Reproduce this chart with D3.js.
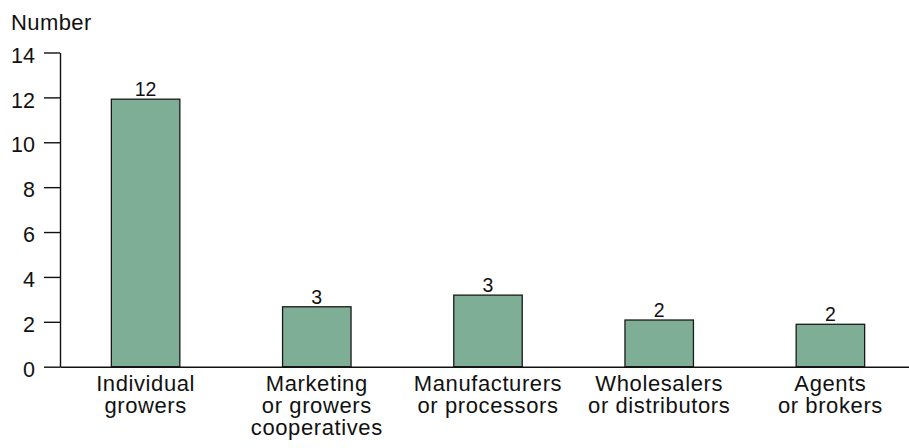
<!DOCTYPE html>
<html>
<head>
<meta charset="utf-8">
<script src="https://cdn.jsdelivr.net/npm/d3@7"></script>
<style>
  body { margin: 0; background: #fff; }
  svg { display: block; font-family: "Liberation Sans", Arial, sans-serif; }
</style>
</head>
<body>
<svg width="909" height="448"></svg>
<script>
const categories = [
  ['Individual', 'growers'],
  ['Marketing', 'or growers', 'cooperatives'],
  ['Manufacturers', 'or processors'],
  ['Wholesalers', 'or distributors'],
  ['Agents', 'or brokers'],
];
const values = [11.92, 2.67, 3.19, 2.08, 1.89];
const valueLabels = ['12', '3', '3', '2', '2'];
const yTicks = [0, 2, 4, 6, 8, 10, 12, 14];

const svg = d3.select('svg');
const plotLeft = 60;
const plotTop = 52.5;
const plotBottom = 366.7;

const x = d3.scaleBand()
  .domain(d3.range(categories.length))
  .range([plotLeft, 916])
  .paddingInner(0.6)
  .paddingOuter(0.3);

const y = d3.scaleLinear().domain([0, 14]).range([plotBottom, plotTop]);

// y axis
const yAxis = svg.append('g')
  .attr('transform', `translate(${plotLeft},0)`)
  .call(d3.axisLeft(y).tickValues(yTicks).tickSize(16).tickSizeOuter(0).tickPadding(9));
yAxis.select('.domain').attr('stroke', '#111').attr('stroke-width', 1.4);
yAxis.selectAll('.tick line').attr('stroke', '#111').attr('stroke-width', 1.4);
yAxis.selectAll('.tick text')
  .attr('font-size', 21.5)
  .attr('fill', '#111')
  .attr('font-family', '"Liberation Sans", Arial, sans-serif')
  .attr('dy', '0.45em');

// bars
svg.append('g').selectAll('rect')
  .data(values)
  .join('rect')
  .attr('x', (d, i) => x(i))
  .attr('y', d => y(d))
  .attr('width', x.bandwidth())
  .attr('height', d => y(0) - y(d))
  .attr('fill', '#7fae96')
  .attr('stroke', '#1a1a1a')
  .attr('stroke-width', 1.3);

// value labels
svg.append('g').selectAll('text')
  .data(values)
  .join('text')
  .attr('x', (d, i) => x(i) + x.bandwidth() / 2)
  .attr('y', d => y(d) - 3)
  .attr('text-anchor', 'middle')
  .attr('font-size', 19.5)
  .attr('fill', '#111')
  .text((d, i) => valueLabels[i]);

// x axis baseline
const xAxis = svg.append('g')
  .attr('transform', `translate(0,${plotBottom})`)
  .call(d3.axisBottom(x).tickSize(0).tickSizeOuter(0).tickFormat(''));
xAxis.select('.domain').attr('stroke', '#111').attr('stroke-width', 1.4);

// category labels, one tspan per line
const cat = svg.append('g').selectAll('text')
  .data(categories)
  .join('text')
  .attr('text-anchor', 'middle')
  .attr('font-size', 22)
  .attr('letter-spacing', 0.6)
  .attr('fill', '#111')
  .attr('transform', (d, i) => `translate(${x(i) + x.bandwidth() / 2},391)`);
cat.selectAll('tspan')
  .data(d => d)
  .join('tspan')
  .attr('x', 0)
  .attr('y', (d, j) => j * 22)
  .text(d => d);

svg.append('text')
  .attr('x', 11)
  .attr('y', 30)
  .attr('font-size', 22)
  .attr('letter-spacing', 0.4)
  .attr('fill', '#111')
  .text('Number');
</script>
</body>
</html>
